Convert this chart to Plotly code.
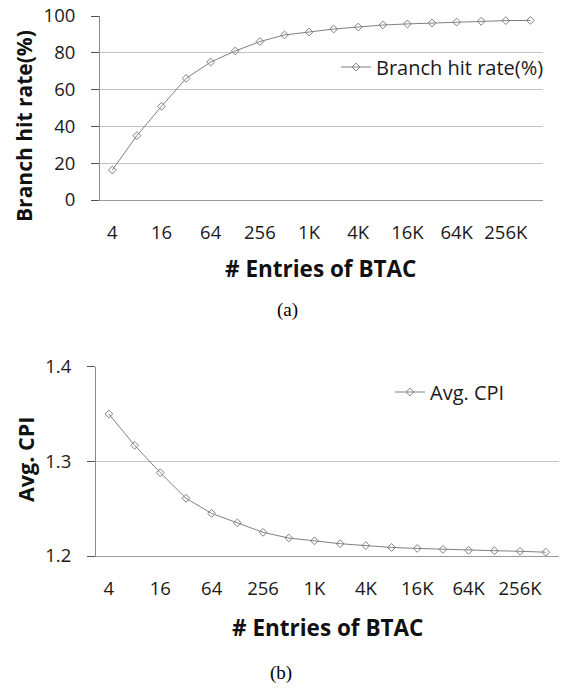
import plotly.graph_objects as go

entries = ["4", "8", "16", "32", "64", "128", "256", "512", "1K", "2K", "4K",
           "8K", "16K", "32K", "64K", "128K", "256K", "512K"]
tick_labels = ["4", "16", "64", "256", "1K", "4K", "16K", "64K", "256K"]
hit_rate = [16.3, 35.0, 50.9, 66.1, 75.0, 81.0, 86.1, 89.7, 91.3, 92.9, 94.0,
            95.1, 95.7, 96.2, 96.7, 97.1, 97.5, 97.6]
avg_cpi = [1.350, 1.317, 1.288, 1.261, 1.245, 1.235, 1.225, 1.219, 1.216, 1.213,
           1.211, 1.209, 1.208, 1.207, 1.206, 1.2056, 1.205, 1.204]

W, H = 561, 698
FONT = "Open Sans"
LINE = "#808080"

def px_x(p):
    return p / W

def px_y(p):
    return (H - p) / H

fig = go.Figure()
fig.add_trace(go.Scatter(
    x=entries, y=hit_rate, mode="lines+markers", name="Branch hit rate(%)",
    line=dict(color=LINE, width=1),
    marker=dict(symbol="diamond-open", size=6, color=LINE, line=dict(width=1)),
    xaxis="x", yaxis="y", legend="legend"))
fig.add_trace(go.Scatter(
    x=entries, y=avg_cpi, mode="lines+markers", name="Avg. CPI",
    line=dict(color=LINE, width=1),
    marker=dict(symbol="diamond-open", size=6, color=LINE, line=dict(width=1)),
    xaxis="x2", yaxis="y2", legend="legend2"))

tick_font = dict(family=FONT, size=18.5, color="#1a1a1a")
xcommon = dict(type="category", categoryorder="array", categoryarray=entries,
               range=[-0.5, len(entries) - 0.5], tickmode="array",
               tickvals=tick_labels, ticktext=tick_labels, tickfont=tick_font,
               showgrid=False, showline=True, linecolor="#9a9a9a", linewidth=1,
               ticks="", zeroline=False, ticklabelstandoff=16, automargin=False)
ycommon = dict(showline=True, linecolor="#8a8a8a", linewidth=1, ticks="outside",
               ticklen=8, tickcolor="#555555", tickfont=tick_font, showgrid=True,
               gridcolor="#c4c4c4", gridwidth=1, zeroline=False, ticklabelstandoff=12,
               automargin=False)

fig.update_layout(
    width=W, height=H, margin=dict(l=0, r=0, t=0, b=0),
    paper_bgcolor="white", plot_bgcolor="white",
    xaxis=dict(domain=[px_x(100), px_x(542.7)], anchor="y", **xcommon),
    yaxis=dict(domain=[px_y(200), px_y(16)], anchor="x", range=[0, 100],
               tickvals=[0, 20, 40, 60, 80, 100], **ycommon),
    xaxis2=dict(domain=[px_x(96), px_x(558.6)], anchor="y2", **xcommon),
    yaxis2=dict(domain=[px_y(556), px_y(366.7)], anchor="x2", range=[1.2, 1.4],
                tickvals=[1.2, 1.3, 1.4], tickformat=".1f", **ycommon),
    legend=dict(x=px_x(336), y=px_y(67), xanchor="left", yanchor="middle",
                font=dict(family=FONT, size=20, color="#1a1a1a"),
                bgcolor="rgba(0,0,0,0)"),
    legend2=dict(x=px_x(390), y=px_y(392), xanchor="left", yanchor="middle",
                 font=dict(family=FONT, size=20, color="#1a1a1a"),
                 bgcolor="rgba(0,0,0,0)"),
    showlegend=True,
)

annots = [
    dict(text="<b>Branch hit rate(%)</b>", x=px_x(24), y=px_y(126), textangle=-90, size=21),
    dict(text="<b>Avg. CPI</b>", x=px_x(25), y=px_y(460), textangle=-90, size=21.5),
    dict(text="<b># Entries of BTAC</b>", x=px_x(320.5), y=px_y(268), size=22.5),
    dict(text="<b># Entries of BTAC</b>", x=px_x(327.5), y=px_y(627), size=22.5),
]
for a in annots:
    size = a.pop("size")
    fig.add_annotation(xref="paper", yref="paper", showarrow=False,
                       xanchor="center", yanchor="middle",
                       font=dict(family=FONT, size=size, color="#111111"), **a)
for t, x, y in [("(a)", 287, 310), ("(b)", 281, 673)]:
    fig.add_annotation(text=t, xref="paper", yref="paper", x=px_x(x), y=px_y(y),
                       showarrow=False, xanchor="center", yanchor="middle",
                       font=dict(family="Liberation Serif", size=19, color="#000000"))

fig.write_html("out.html", config={"displayModeBar": False},
               post_script="document.body.style.margin='0';")
